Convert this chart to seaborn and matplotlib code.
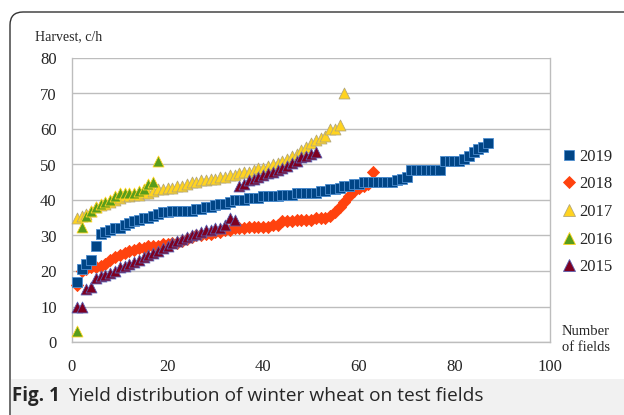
import numpy as np
import pandas as pd
import seaborn as sns
import matplotlib
matplotlib.use("Agg")
from matplotlib import pyplot as plt
from matplotlib.patches import FancyBboxPatch, Rectangle
from matplotlib.lines import Line2D

# Harvest, c/h, sorted per year
y2019 = [17, 20.5, 22, 23, 27, 30.5, 31, 31.5, 32, 32, 33, 33.5, 34, 34.5, 35, 35, 35.5, 36,
         36.5, 36.5, 37, 37, 37, 37, 37, 37.5, 37.5, 38, 38, 38.5, 39, 39, 39.5, 40, 40, 40,
         40.5, 40.5, 40.5, 41, 41, 41, 41, 41.5, 41.5, 41.5, 42, 42, 42, 42, 42, 42.5, 42.5,
         43, 43, 43.5, 44, 44, 44.5, 44.5, 45, 45, 45, 45, 45, 45, 45, 45.5, 46, 46.5, 48.5,
         48.5, 48.5, 48.5, 48.5, 48.5, 48.5, 51, 51, 51, 51, 51.5, 52.5, 53.5, 54.5, 55, 56]
y2018 = [16, 20, 20.5, 21, 21, 21.5, 22, 23, 24, 24.5, 25, 25.5, 26, 26.5, 26.5, 27, 27, 27,
         27.5, 27.5, 28, 28, 28.5, 29, 29.5, 30, 30, 30.5, 30.5, 31, 31, 31.5, 31.5, 32, 32,
         32, 32.5, 32.5, 32.5, 32.5, 32.5, 33, 33, 34, 34, 34, 34.5, 34.5, 34.5, 34.5, 35, 35,
         35, 35.5, 36.5, 38, 39.5, 41, 42.5, 43.5, 44, 44.5, 48]
y2017 = [35, 35.5, 36, 37, 38, 38.5, 39, 39.5, 40, 40.5, 41, 41, 41.5, 41.5, 42, 42, 42.5, 43,
         43, 43.5, 43.5, 44, 44, 44.5, 45, 45, 45.5, 45.5, 46, 46, 46.5, 46.5, 47, 47, 47.5,
         48, 48, 48.5, 49, 49, 49.5, 50, 50.5, 51, 51.5, 52.5, 53, 54, 55, 56, 57, 57.5, 58,
         60, 60, 61, 70]
y2016 = [3, 32.5, 35.5, 37, 38, 39, 39.5, 40, 41, 42, 42, 42, 42, 42.5, 43, 44.5, 45, 51]
y2015 = [10, 10, 15, 15.5, 18, 18.5, 19, 19.5, 20, 21, 21.5, 22, 22.5, 23, 24, 24.5, 25, 25.5,
         26.5, 27, 28, 28.5, 29, 29.5, 30, 30.5, 31, 31.5, 31.5, 32, 32, 33, 35, 34.5, 44,
         44.5, 45.5, 46, 46.5, 47, 47.5, 48, 48.5, 49, 49.5, 50.5, 51, 52, 52.5, 53, 53.5]

years = ["2019", "2018", "2017", "2016", "2015"]
values = [y2019, y2018, y2017, y2016, y2015]
draw_order = ["2018", "2017", "2016", "2015", "2019"]

styles = {
    "2019": dict(marker="s", color="#004586", edgecolor="#4f8fd0", s=52),
    "2018": dict(marker="D", color="#ff420e", edgecolor="#ff420e", s=38),
    "2017": dict(marker="^", color="#ffd320", edgecolor="#b5a878", s=62),
    "2016": dict(marker="^", color="#579d1c", edgecolor="#ffd320", s=62),
    "2015": dict(marker="^", color="#7e0021", edgecolor="#5a5fb0", s=62),
}

frames = []
for yr, vals in zip(years, values):
    frames.append(pd.DataFrame({"field": np.arange(1, len(vals) + 1), "harvest": vals, "year": yr}))
df = pd.concat(frames, ignore_index=True)

sns.set_style("white")
serif = ["Liberation Serif", "DejaVu Serif"]

fig = plt.figure(figsize=(6.24, 4.15), dpi=100)

# outer rounded frame and caption band
frame = FancyBboxPatch((0.10, -0.6), 7.0, 4.15 - 0.12 + 0.6,
                       boxstyle="round,pad=0,rounding_size=0.13",
                       transform=fig.dpi_scale_trans, facecolor="white",
                       edgecolor="#333333", linewidth=1.0, zorder=-2)
fig.patches.append(frame)
band = Rectangle((0.106, 0.0), 7.0, 0.36, transform=fig.dpi_scale_trans,
                 facecolor="#f1f1f1", edgecolor="none", zorder=-1)
fig.patches.append(band)

ax = fig.add_axes([72 / 624, 1 - 342 / 415, (550 - 72) / 624, (342 - 58) / 415])
ax.set_zorder(2)
ax.set_facecolor("none")

for yr in draw_order:
    st = styles[yr]
    sub = df[df["year"] == yr]
    sns.scatterplot(data=sub, x="field", y="harvest", ax=ax, marker=st["marker"],
                    color=st["color"], edgecolor=st["edgecolor"], linewidth=0.6,
                    s=st["s"], zorder=3, legend=False, clip_on=False)

ax.set_xlim(0, 100)
ax.set_ylim(0, 80)
ax.set_xticks(range(0, 101, 20))
ax.set_yticks(range(0, 81, 10))
ax.set_xlabel("")
ax.set_ylabel("")
ax.grid(axis="y", color="#bdbdbd", linewidth=1.0)
ax.set_axisbelow(True)
ax.spines["top"].set_visible(False)
for side in ["left", "bottom", "right"]:
    ax.spines[side].set_color("#bdbdbd")
    ax.spines[side].set_linewidth(1.0)
ax.tick_params(axis="x", direction="out", length=5, color="#bdbdbd", width=1,
               labelsize=12, pad=7)
ax.tick_params(axis="y", length=0, labelsize=12, pad=11)
for lab in ax.get_xticklabels() + ax.get_yticklabels():
    lab.set_fontfamily(serif)

fig.text(35 / 624, 1 - 37 / 415, "Harvest, c/h", family=serif, fontsize=10, va="center")
fig.text(586 / 624, 1 - 339 / 415, "Number\nof fields", family=serif, fontsize=10.5,
         va="center", ha="center", linespacing=1.3)

handles = []
for yr in years:
    st = styles[yr]
    ms = 7 if st["marker"] == "s" else (6.5 if st["marker"] == "D" else 8)
    handles.append(Line2D([], [], linestyle="none", marker=st["marker"], markersize=ms,
                          markerfacecolor=st["color"], markeredgecolor=st["edgecolor"],
                          markeredgewidth=0.6, label=yr))
leg = fig.legend(handles=handles, loc="center left", bbox_to_anchor=(546 / 624, 1 - 212 / 415),
                 frameon=False, handletextpad=0.1, labelspacing=0.7, handlelength=1.0,
                 prop={"family": serif, "size": 12})

fig.text(12 / 624, 1 - 396 / 415, "Fig. 1", family="Open Sans", fontweight="bold",
         fontsize=13.5, va="center")
fig.text(68 / 624, 1 - 396 / 415, "Yield distribution of winter wheat on test fields",
         family="Open Sans", fontsize=13.8, va="center")

fig.savefig("out.png", dpi=100)
